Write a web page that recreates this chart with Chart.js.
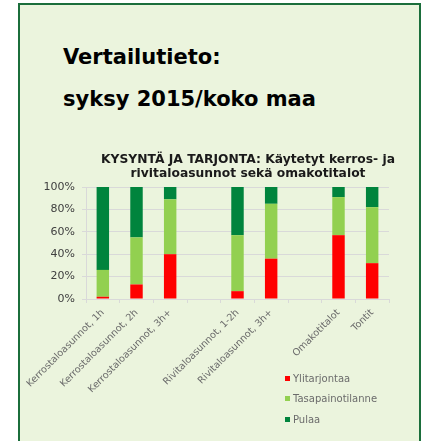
<!DOCTYPE html>
<html>
<head>
<meta charset="utf-8">
<script src="https://cdn.jsdelivr.net/npm/chart.js@4.4.0/dist/chart.umd.min.js"></script>
<style>
html, body { margin:0; padding:0; width:423px; height:441px; overflow:hidden; background:#fff; }
#panel { position:absolute; left:18px; top:3px; width:403px; height:470px; box-sizing:border-box;
         background:#ebf4dd; border:2px solid #1b6e3b; border-bottom:none; }
.head { position:absolute; left:63px; font:bold 21px "DejaVu Sans"; line-height:21px; color:#000; white-space:nowrap; }
#chart-con { position:absolute; left:0; top:140px; width:496px; height:301px; }
#legend { position:absolute; left:285px; top:368px; font:10px "DejaVu Sans"; color:#6b6b6b; }
#legend .item { height:20.5px; display:flex; align-items:center; }
#legend .box { width:5px; height:5px; margin-right:3px; }
</style>
</head>
<body>
<div id="panel"></div>
<div class="head" style="top:47px">Vertailutieto:</div>
<div class="head" style="top:89px">syksy 2015/koko maa</div>
<div id="chart-con"><canvas id="my-chart" width="496" height="301"></canvas></div>
<div id="legend"></div>
<script>
// data (percent)
const categories = ['Kerrostaloasunnot, 1h', 'Kerrostaloasunnot, 2h', 'Kerrostaloasunnot, 3h+', '',
                    'Rivitaloasunnot, 1-2h', 'Rivitaloasunnot, 3h+', '', 'Omakotitalot', 'Tontit'];
const ylitarjontaa = [2, 13, 40, null, 7, 36, null, 57, 32];
const tasapainotilanne = [24, 42, 49, null, 50, 49, null, 34, 50];
const pulaa = [74, 45, 11, null, 43, 15, null, 9, 18];
const seriesNames = ['Ylitarjontaa', 'Tasapainotilanne', 'Pulaa'];
const seriesColors = ['#ff0000', '#92d050', '#00843d'];
const yTickValues = [0, 10, 20, 30, 40, 50, 60, 70, 80, 90, 100];
const chartTitle = ['KYSYNTÄ JA TARJONTA: Käytetyt kerros- ja', 'rivitaloasunnot sekä omakotitalot'];

Chart.defaults.font.family = 'DejaVu Sans';
Chart.defaults.animation = false;

function showChart(){
    const seriesValues = [ylitarjontaa, tasapainotilanne, pulaa];
    const datasets = [];
    seriesNames.forEach((name, i) => {
        datasets.push({
            label: name,
            data: seriesValues[i],
            backgroundColor: seriesColors[i],
            borderWidth: 0,
            barPercentage: 0.37,
            categoryPercentage: 1
        });
    });

    const config = {
        type: 'bar',
        data: { labels: categories, datasets },
        options: {
            responsive: false,
            layout: { padding: 0 },
            plugins: {
                legend: { display: false },
                tooltip: { enabled: false },
                title: {
                    display: true,
                    text: chartTitle,
                    color: '#1a1a1a',
                    font: { size: 12.3, weight: 'bold', lineHeight: '14px' },
                    padding: { top: 13, bottom: 6 }
                }
            },
            scales: {
                x: {
                    stacked: true,
                    grid: { offset: true, drawOnChartArea: false, color: '#d9d9d9', tickLength: 4 },
                    border: { color: '#d9d9d9' },
                    ticks: { autoSkip: false, minRotation: 45, maxRotation: 45, padding: 4,
                             color: '#6b6b6b', font: { size: 9.6 } },
                    afterFit: s => { s.height = 142; }
                },
                y: {
                    stacked: true,
                    min: 0,
                    max: 100,
                    grid: { color: '#d9d9d9', tickLength: 4 },
                    border: { color: '#d9d9d9' },
                    ticks: { padding: 7, color: '#404040', font: { size: 11 },
                             callback: v => v + '%' },
                    afterBuildTicks: s => { s.ticks = yTickValues.map(v => ({ value: v })); },
                    afterFit: s => { s.width = 86; }
                },
                // empty space on the right so the title stays centred over the whole panel
                spacer: {
                    type: 'linear',
                    position: 'right',
                    grid: { display: false },
                    border: { display: false },
                    ticks: { display: false },
                    afterFit: s => { s.width = 107; }
                }
            }
        }
    };

    return new Chart(document.getElementById('my-chart').getContext('2d'), config);
}

function showLegend(chart){
    const legend = document.getElementById('legend');
    chart.data.datasets.forEach(ds => {
        legend.innerHTML += `<div class="item"><span class="box" style="background:${ds.backgroundColor}"></span>${ds.label}</div>`;
    });
}

const myChart = showChart();
showLegend(myChart);
</script>
</body>
</html>
